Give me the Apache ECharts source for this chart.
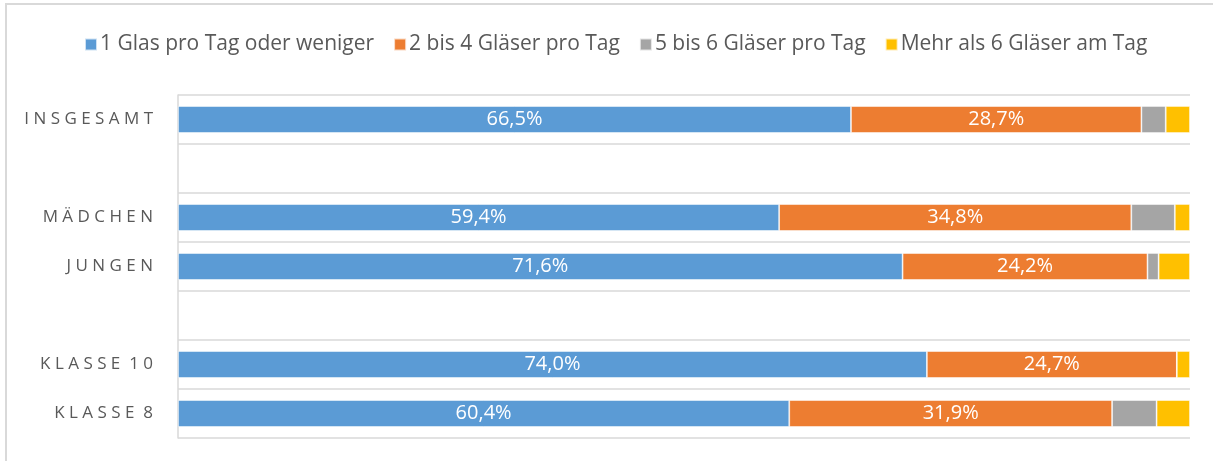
<!DOCTYPE html>
<html>
<head>
<meta charset="utf-8">
<script src="https://cdn.jsdelivr.net/npm/echarts@6/dist/echarts.min.js"></script>
<style>
  html, body { margin: 0; padding: 0; background: #fff; }
  #chart { width: 1213px; height: 461px; }
</style>
</head>
<body>
<div id="chart"></div>
<script>
// Kategorien (leere Zeilen als Abstand)
var categories = ["INSGESAMT", "", "MÄDCHEN", "JUNGEN", "", "KLASSE 10", "KLASSE 8"];
var seriesNames = ["1 Glas pro Tag oder weniger", "2 bis 4 Gläser pro Tag", "5 bis 6 Gläser pro Tag", "Mehr als 6 Gläser am Tag"];
var glas1 = [66.5, null, 59.4, 71.6, null, 74.0, 60.4];
var glas2bis4 = [28.7, null, 34.8, 24.2, null, 24.7, 31.9];
var glas5bis6 = [2.4, null, 4.3, 1.1, null, 0, 4.4];
var glasMehr6 = [2.4, null, 1.5, 3.1, null, 1.3, 3.3];

var colors = ["#5B9BD5", "#ED7D31", "#A5A5A5", "#FFC000"];
var values = [glas1, glas2bis4, glas5bis6, glasMehr6];

// Buchstaben sperren wie im Original
function spaced(name) {
  return name.split(" ").map(function (w) {
    return w.split("").join(" ");
  }).join("  ");
}

var myChart = echarts.init(document.getElementById("chart"));

var series = [];
for (var i = 0; i < values.length; i++) {
  series.push({
    name: seriesNames[i],
    type: "bar",
    stack: "total",
    data: values[i],
    barWidth: 27,
    animation: false,
    itemStyle: {
      color: colors[i],
      borderColor: "rgba(255,255,255,0.7)",
      borderWidth: 0.8
    },
    label: {
      show: i < 2,
      position: "inside",
      color: "#fff",
      fontFamily: "Open Sans",
      fontSize: 20,
      formatter: function (p) {
        return p.value.toFixed(1).replace(".", ",") + "%";
      }
    }
  });
}

var option = {
  color: colors,
  graphic: [{
    type: "rect",
    shape: { x: 6, y: 4, width: 1300, height: 600 },
    style: { fill: "none", stroke: "#d9d9d9", lineWidth: 2 },
    silent: true
  }],
  legend: {
    top: 29,
    left: 79,
    icon: "rect",
    itemWidth: 12,
    itemHeight: 12,
    itemGap: 19,
    textStyle: {
      fontFamily: "Open Sans",
      fontSize: 21,
      color: "#595959",
      padding: [0, 0, 0, -2]
    },
    data: seriesNames
  },
  grid: {
    left: 178,
    right: 23,
    top: 95,
    bottom: 23
  },
  xAxis: {
    type: "value",
    min: 0,
    max: 100,
    show: false
  },
  yAxis: {
    type: "category",
    inverse: true,
    data: categories,
    axisTick: { show: false },
    axisLine: {
      show: true,
      lineStyle: { color: "#d9d9d9", width: 1.5 }
    },
    splitLine: {
      show: true,
      lineStyle: { color: "#d9d9d9", width: 1.5 }
    },
    axisLabel: {
      margin: 25,
      color: "#595959",
      fontFamily: "Open Sans",
      fontSize: 17,
      formatter: spaced
    }
  },
  series: series
};
myChart.setOption(option, true);
</script>
</body>
</html>
